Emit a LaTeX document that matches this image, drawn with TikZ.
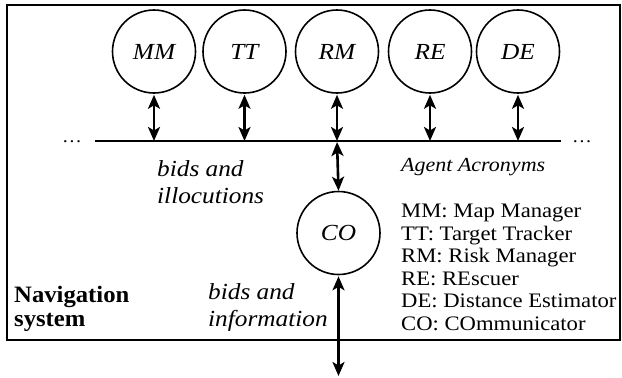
\documentclass[tikz,border=0pt]{standalone}
\usepackage{fontspec}
\setmainfont{Liberation Serif}[FakeStretch=1.1]
\newfontfamily\navfont{Liberation Serif}[FakeStretch=1.05]
\usetikzlibrary{arrows.meta}
\begin{document}
\begin{tikzpicture}[x=1pt,y=-1pt,
  agent/.style={draw, circle, line width=1.6pt, minimum size=83pt, inner sep=0pt, font=\fontsize{23}{24}\selectfont\itshape},
  dbl/.style={line width=2.6pt, {Stealth[length=14pt,width=12pt,inset=3.5pt]}-{Stealth[length=14pt,width=12pt,inset=3.5pt]}, shorten <=1pt, shorten >=0pt},
  lbl/.style={inner sep=0pt, align=left, anchor=north west},
  legend/.style={inner sep=0pt, align=left, anchor=north west, font=\fontsize{20.6}{22.5}\selectfont}]
\useasboundingbox (0,0) rectangle (622,378);
\draw[line width=2.6pt] (7,5) rectangle (620,340);
% agents
\node[agent] (MM) at (154,51.5) {MM};
\node[agent] (TT) at (244.5,51.5) {TT};
\node[agent] (RM) at (337,51.5) {RM};
\node[agent] (RE) at (430,51.5) {RE};
\node[agent] (DE) at (518,51.5) {DE};
\node[agent] (CO) at (338.5,233) {CO};
% bus
\coordinate (busL) at (95,141);
\coordinate (busR) at (561,141);
\draw[line width=2.4pt] (busL) -- (busR);
\node[inner sep=0pt, font=\fontsize{18}{20}\selectfont] (dotsL) at (72,142) {\dots};
\node[inner sep=0pt, font=\fontsize{18}{20}\selectfont] (dotsR) at (582,142) {\dots};
\foreach \n in {MM,TT,RM,RE,DE}{
  \coordinate (b\n) at (\n.south |- busL);
  \draw[dbl] (\n.south) -- (b\n);
}
\draw[dbl] (bRM) -- (CO.north);
\coordinate (out) at (338.5,376);
\draw[dbl] (CO.south) -- (out);
% labels
\node[lbl, font=\fontsize{23}{27}\selectfont\itshape] (bi) at (157,160) {bids and\\illocutions};
\node[lbl, font=\fontsize{20}{22}\selectfont\itshape] (aa) at (401,158) {Agent Acronyms};
\node[lbl, font=\fontsize{23}{27}\selectfont\itshape] (binf) at (208,283) {bids and\\information};
\node[lbl, font=\fontsize{23.5}{23.5}\navfont\bfseries] (nav) at (14,286) {Navigation\\system};
\node[legend] (leg) at (401,204) {MM: Map Manager\\TT: Target Tracker\\RM: Risk Manager\\RE: REscuer\\DE: Distance Estimator\\CO: COmmunicator};
\end{tikzpicture}
\end{document}
